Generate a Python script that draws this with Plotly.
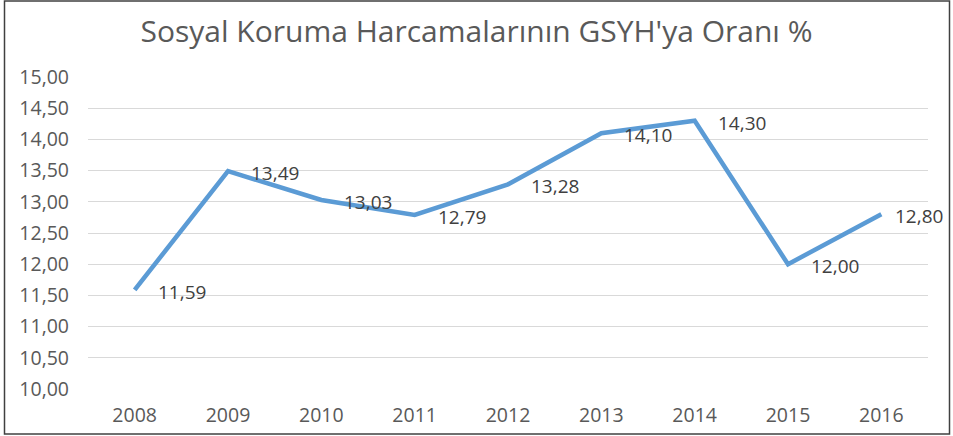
import plotly.graph_objects as go

years = ["2008", "2009", "2010", "2011", "2012", "2013", "2014", "2015", "2016"]
values = [11.59, 13.49, 13.03, 12.79, 13.28, 14.10, 14.30, 12.00, 12.80]
labels = ["11,59", "13,49", "13,03", "12,79", "13,28", "14,10", "14,30", "12,00", "12,80"]
y_ticks = [10.0, 10.5, 11.0, 11.5, 12.0, 12.5, 13.0, 13.5, 14.0, 14.5, 15.0]
y_ticktext = ["10,00", "10,50", "11,00", "11,50", "12,00", "12,50", "13,00", "13,50", "14,00", "14,50", "15,00"]

W, H = 953, 436
L, R, T, B = 88, 25, 77, 47
FONT = "Open Sans"
GREY = "#595959"

fig = go.Figure()
fig.add_trace(go.Scatter(
    x=years, y=values, mode="lines",
    line=dict(color="#5B9BD5", width=4.5),
    hoverinfo="skip", showlegend=False,
))

for i, (yv, t) in enumerate(zip(values, labels)):
    shift = 12 if i == len(values) - 1 else 21
    fig.add_annotation(x=i, y=yv, xref="x", yref="y", text=t, showarrow=False,
                       xanchor="left", yanchor="middle", xshift=shift, yshift=-2,
                       font=dict(family=FONT, size=19, color="#404040"))

pw, ph = W - L - R, H - T - B
def px(x):
    return (x - L) / pw
def py(y):
    return 1 - (y - T) / ph

fig.add_shape(type="rect", xref="paper", yref="paper",
              x0=px(4.5), x1=px(949.5), y0=py(434), y1=py(1),
              line=dict(color="#404040", width=1.5), layer="below")

fig.update_layout(
    width=W, height=H,
    margin=dict(l=L, r=R, t=T, b=B),
    paper_bgcolor="white", plot_bgcolor="white",
    title=dict(text="Sosyal Koruma Harcamalarının GSYH'ya Oranı %",
               x=0.5, xref="container", xanchor="center", y=1 - 31 / H, yanchor="middle",
               font=dict(family=FONT, size=30, color=GREY)),
    xaxis=dict(type="category", showgrid=False, zeroline=False, showline=False,
               ticks="", tickfont=dict(family=FONT, size=19.5, color=GREY),
               range=[-0.5, len(years) - 0.5], fixedrange=True,
               ticklabelstandoff=12, automargin=False),
    yaxis=dict(range=[10, 15], tickvals=y_ticks, ticktext=y_ticktext,
               showgrid=True, gridcolor="#D9D9D9", gridwidth=1,
               zeroline=False, showline=False, ticks="",
               tickfont=dict(family=FONT, size=19.5, color=GREY),
               ticklabelstandoff=18, fixedrange=True, automargin=False),
)

fig.write_html("out.html", config={"displayModeBar": False},
               post_script="document.body.style.margin='0';document.body.style.overflow='hidden';")
